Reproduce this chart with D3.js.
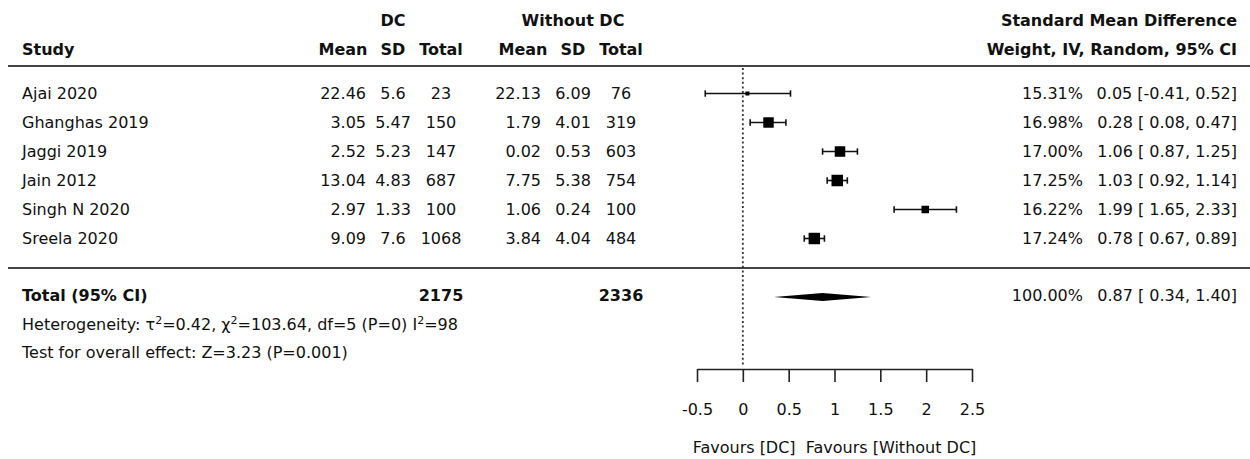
<!DOCTYPE html>
<html>
<head>
<meta charset="utf-8">
<script src="https://cdn.jsdelivr.net/npm/d3@7"></script>
<style>
  html, body { margin: 0; padding: 0; background: #fff; }
  svg text { font-family: "DejaVu Sans", sans-serif; font-size: 16px; fill: #111; white-space: pre; }
  .b { font-weight: bold; }
</style>
</head>
<body>
<svg id="chart" width="1250" height="459"></svg>
<script>
// ---- data ----
const studies   = ["Ajai 2020", "Ghanghas 2019", "Jaggi 2019", "Jain 2012", "Singh N 2020", "Sreela 2020"];
const dcMean    = [22.46, 3.05, 2.52, 13.04, 2.97, 9.09];
const dcSD      = [5.6, 5.47, 5.23, 4.83, 1.33, 7.6];
const dcTotal   = [23, 150, 147, 687, 100, 1068];
const woMean    = [22.13, 1.79, 0.02, 7.75, 1.06, 3.84];
const woSD      = [6.09, 4.01, 0.53, 5.38, 0.24, 4.04];
const woTotal   = [76, 319, 603, 754, 100, 484];
const weights   = [15.31, 16.98, 17.00, 17.25, 16.22, 17.24];
const smd       = [0.05, 0.28, 1.06, 1.03, 1.99, 0.78];
const ciLow     = [-0.41, 0.08, 0.87, 0.92, 1.65, 0.67];
const ciHigh    = [0.52, 0.47, 1.25, 1.14, 2.33, 0.89];
const pooled    = { est: 0.87, lo: 0.34, hi: 1.40, weight: 100.00, nDC: 2175, nWO: 2336 };
const axisTicks = [-0.5, 0, 0.5, 1, 1.5, 2, 2.5];

// ---- layout ----
const svg = d3.select("#chart");
const x = d3.scaleLinear().domain([-0.5, 2.5]).range([697, 972]);
const rowY = i => 93.5 + 29 * i;
const base = 5;   // baseline offset from row centre
const sq = d3.scaleLinear().domain(d3.extent(weights)).range([4, 11.5]);

const fmtCI = (e, l, h) => `${e.toFixed(2)} [${l < 0 ? "" : " "}${l.toFixed(2)}, ${h.toFixed(2)}]`;

function txt(xp, yp, s, anchor, cls) {
  return svg.append("text").attr("x", xp).attr("y", yp)
    .attr("text-anchor", anchor || "start").attr("class", cls || null).text(s);
}

// headers
txt(393, 26, "DC", "middle", "b");
txt(573, 26, "Without DC", "middle", "b");
txt(1237, 26, "Standard Mean Difference", "end", "b");
txt(22, 54.5, "Study", "start", "b");
txt(343, 54.5, "Mean", "middle", "b");
txt(393, 54.5, "SD", "middle", "b");
txt(441, 54.5, "Total", "middle", "b");
txt(523, 54.5, "Mean", "middle", "b");
txt(573, 54.5, "SD", "middle", "b");
txt(621, 54.5, "Total", "middle", "b");
txt(1237, 54.5, "Weight, IV, Random, 95% CI", "end", "b");

// separator lines
[66, 268].forEach(yy => {
  svg.append("line").attr("x1", 8).attr("x2", 1250).attr("y1", yy).attr("y2", yy)
    .attr("stroke", "#444").attr("stroke-width", 2);
});

// rows
const g = svg.append("g");
studies.forEach((s, i) => {
  const y = rowY(i) + base;
  txt(22, y, s);
  txt(366, y, String(dcMean[i]), "end");
  txt(393, y, String(dcSD[i]), "middle");
  txt(441, y, String(dcTotal[i]), "middle");
  txt(541, y, String(woMean[i]), "end");
  txt(573, y, String(woSD[i]), "middle");
  txt(621, y, String(woTotal[i]), "middle");
  txt(1083, y, weights[i].toFixed(2) + "%", "end");
  txt(1237, y, fmtCI(smd[i], ciLow[i], ciHigh[i]), "end");
});

// null line
svg.append("line").attr("x1", x(0)).attr("x2", x(0)).attr("y1", 68).attr("y2", 366)
  .attr("stroke", "#333").attr("stroke-width", 1.8).attr("stroke-dasharray", "2,2.6");

// CIs
const rows = studies.map((s, i) => ({ i, e: smd[i], l: ciLow[i], h: ciHigh[i], w: weights[i] }));
g.selectAll(".ci").data(rows).join("line")
  .attr("x1", d => x(d.l)).attr("x2", d => x(d.h))
  .attr("y1", d => rowY(d.i)).attr("y2", d => rowY(d.i))
  .attr("stroke", "#111").attr("stroke-width", 1.6);
["l", "h"].forEach(k => {
  g.selectAll(".cap" + k).data(rows).join("line")
    .attr("x1", d => x(d[k])).attr("x2", d => x(d[k]))
    .attr("y1", d => rowY(d.i) - 3.2).attr("y2", d => rowY(d.i) + 3.2)
    .attr("stroke", "#111").attr("stroke-width", 1.6);
});
g.selectAll(".sq").data(rows).join("rect")
  .attr("x", d => x(d.e) - sq(d.w) / 2).attr("y", d => rowY(d.i) - sq(d.w) / 2)
  .attr("width", d => sq(d.w)).attr("height", d => sq(d.w)).attr("fill", "#000");

// total row
const ty = 295;
txt(22, ty + base + 1, "Total (95% CI)", "start", "b");
txt(441, ty + base + 1, String(pooled.nDC), "middle", "b");
txt(621, ty + base + 1, String(pooled.nWO), "middle", "b");
txt(1083, ty + base + 1, pooled.weight.toFixed(2) + "%", "end");
txt(1237, ty + base + 1, fmtCI(pooled.est, pooled.lo, pooled.hi), "end");
svg.append("path")
  .attr("d", `M${x(pooled.lo)},${ty + 2} L${x(pooled.est)},${ty - 2} L${x(pooled.hi)},${ty + 2} L${x(pooled.est)},${ty + 6} Z`)
  .attr("fill", "#000");

// heterogeneity & overall
const het = svg.append("text").attr("x", 22).attr("y", 329.5);
het.append("tspan").text("Heterogeneity: τ");
het.append("tspan").attr("dy", -6).attr("font-size", 11).text("2");
het.append("tspan").attr("dy", 6).text("=0.42, χ");
het.append("tspan").attr("dy", -6).attr("font-size", 11).text("2");
het.append("tspan").attr("dy", 6).text("=103.64, df=5 (P=0) I");
het.append("tspan").attr("dy", -6).attr("font-size", 11).text("2");
het.append("tspan").attr("dy", 6).text("=98");
txt(22, 358, "Test for overall effect: Z=3.23 (P=0.001)");

// axis
const ax = svg.append("g").attr("transform", "translate(0,369)")
  .call(d3.axisBottom(x).tickValues(axisTicks).tickSize(13).tickSizeOuter(0).tickPadding(22)
    .tickFormat(d => String(d)));
ax.select(".domain").attr("stroke", "#222").attr("stroke-width", 1.6);
ax.selectAll(".tick line").attr("stroke", "#222").attr("stroke-width", 1.6);
ax.selectAll("text").attr("font-size", 16).attr("font-family", "DejaVu Sans").attr("fill", "#111");

txt(x(1), 453, "Favours [DC]  Favours [Without DC]", "middle");
</script>
</body>
</html>
